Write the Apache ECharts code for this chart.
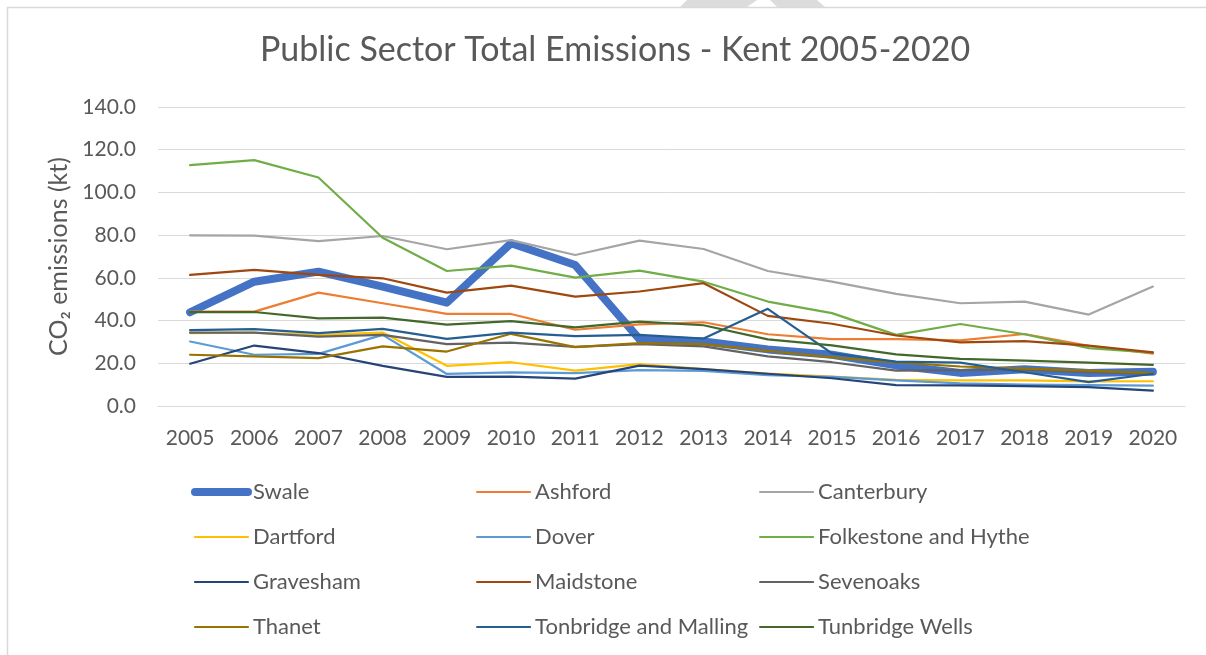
<!DOCTYPE html>
<html>
<head>
<meta charset="utf-8">
<script src="https://cdn.jsdelivr.net/npm/echarts@6/dist/echarts.min.js"></script>
<style>
html,body{margin:0;padding:0;background:#fff;}
#c{width:1206px;height:655px;}
</style>
</head>
<body>
<div id="c"></div>
<script>
var years = ['2005','2006','2007','2008','2009','2010','2011','2012','2013','2014','2015','2016','2017','2018','2019','2020'];
var yTicks = [0, 20, 40, 60, 80, 100, 120, 140];

var swale       = [43.9, 58.2, 62.9, 55.9, 48.4, 76.2, 66.0, 31.3, 30.2, 26.5, 24.0, 19.0, 15.5, 17.2, 15.5, 16.0];
var ashford     = [44.2, 44.2, 53.1, 48.1, 43.1, 43.1, 35.7, 38.2, 39.2, 33.6, 31.3, 31.3, 30.7, 33.7, 28.2, 24.5];
var canterbury  = [79.9, 79.8, 77.2, 79.6, 73.4, 77.7, 70.7, 77.4, 73.5, 63.2, 58.2, 52.5, 48.1, 48.9, 42.8, 55.9];
var dartford    = [34.1, 34.3, 33.3, 34.4, 18.8, 20.5, 16.6, 19.6, 17.3, 15.2, 13.8, 12.2, 12.0, 12.0, 11.5, 11.6];
var dover       = [30.2, 24.0, 24.4, 33.3, 15.0, 15.7, 15.4, 16.8, 16.4, 14.4, 13.6, 12.0, 10.6, 10.0, 9.8, 9.5];
var folkestone  = [112.8, 115.1, 107.0, 78.8, 63.2, 65.7, 60.1, 63.4, 58.2, 48.9, 43.5, 33.3, 38.4, 33.6, 27.1, 25.0];
var gravesham   = [19.8, 28.3, 24.8, 18.8, 13.6, 13.8, 12.8, 18.9, 17.3, 15.1, 13.0, 9.8, 9.7, 9.3, 8.8, 7.2];
var maidstone   = [61.4, 63.7, 61.4, 59.8, 53.1, 56.4, 51.2, 53.6, 57.5, 42.2, 38.5, 33.0, 29.8, 30.4, 28.3, 25.1];
var sevenoaks   = [34.4, 34.4, 32.5, 33.3, 29.0, 29.7, 27.7, 29.0, 27.9, 23.2, 20.5, 16.6, 16.8, 17.0, 15.9, 15.1];
var thanet      = [24.0, 23.2, 22.4, 27.9, 25.5, 33.8, 27.6, 29.4, 29.0, 25.8, 22.8, 20.4, 18.5, 17.5, 16.6, 15.4];
var tonbridge   = [35.5, 36.0, 34.1, 36.1, 31.4, 34.4, 32.7, 33.3, 31.6, 45.5, 24.6, 20.8, 20.3, 15.8, 11.2, 15.1];
var tunbridgeW  = [44.0, 44.0, 41.0, 41.4, 38.1, 39.7, 36.8, 39.5, 37.8, 31.2, 28.4, 24.2, 22.1, 21.2, 20.3, 19.3];

var names = ['Swale','Ashford','Canterbury','Dartford','Dover','Folkestone and Hythe','Gravesham','Maidstone','Sevenoaks','Thanet','Tonbridge and Malling','Tunbridge Wells'];
var values = [swale, ashford, canterbury, dartford, dover, folkestone, gravesham, maidstone, sevenoaks, thanet, tonbridge, tunbridgeW];
var colors = ['#4472C4','#ED7D31','#A5A5A5','#FFC000','#5B9BD5','#70AD47','#264478','#9E480E','#636363','#997300','#255E91','#43682B'];

var FONT = 'Lato';
var TXT = '#595959';

var series = names.map(function(n, i){
  return {
    name: n,
    type: 'line',
    data: values[i],
    symbol: 'none',
    showSymbol: false,
    color: colors[i],
    lineStyle: {
      color: colors[i],
      width: i === 0 ? 8 : 2.2,
      cap: 'round',
      join: 'round'
    },
    emphasis: {disabled: true},
    animation: false
  };
});

function legendCol(items, left){
  return {
    orient: 'vertical',
    left: left,
    top: 476,
    itemWidth: 53,
    itemHeight: 14,
    itemGap: 23,
    selectedMode: false,
    data: items,
    itemStyle: {opacity: 0, borderWidth: 0},
    lineStyle: {width: 'inherit', cap: 'round'},
    textStyle: {color: TXT, fontSize: 22, fontFamily: FONT}
  };
}

var chart = echarts.init(document.getElementById('c'), null, {renderer: 'canvas'});
chart.setOption({
  backgroundColor: '#fff',
  animation: false,
  title: {
    text: 'Public Sector Total Emissions - Kent 2005-2020',
    left: 255,
    top: 28,
    textStyle: {color: TXT, fontSize: 34, fontWeight: 'normal', fontFamily: FONT}
  },
  legend: [
    legendCol(['Swale','Dartford','Gravesham','Thanet'], 186),
    legendCol(['Ashford','Dover','Maidstone','Tonbridge and Malling'], 471),
    legendCol(['Canterbury','Folkestone and Hythe','Sevenoaks','Tunbridge Wells'], 754)
  ],
  grid: {left: 158, right: 21, top: 107, bottom: 249, containLabel: false},
  xAxis: {
    type: 'category',
    data: years,
    boundaryGap: true,
    axisLine: {show: true, lineStyle: {color: '#D9D9D9', width: 1}},
    axisTick: {show: false},
    axisLabel: {color: TXT, fontSize: 21, fontFamily: FONT, margin: 22}
  },
  yAxis: {
    type: 'value',
    min: yTicks[0],
    max: yTicks[yTicks.length - 1],
    interval: yTicks[1] - yTicks[0],
    name: 'CO\u2082 emissions (kt)',
    nameLocation: 'middle',
    nameGap: 76,
    nameRotate: 90,
    nameTextStyle: {color: TXT, fontSize: 25, fontFamily: FONT},
    axisLine: {show: false},
    axisTick: {show: false},
    splitLine: {lineStyle: {color: '#D9D9D9', width: 1}},
    axisLabel: {
      color: TXT, fontSize: 21, fontFamily: FONT, margin: 22,
      formatter: function(v){ return v.toFixed(1); }
    }
  },
  graphic: [
    {type: 'polyline', silent: true, shape: {points: [[7.5, 655],[7.5, 7.5],[1206, 7.5]]}, style: {stroke: '#D9D9D9', lineWidth: 1.5, fill: null}},
    {type: 'polygon', silent: true, shape: {points: [[680,7],[687,0],[757,0],[747,7]]}, style: {fill: '#DCDCDC'}},
    {type: 'polygon', silent: true, shape: {points: [[777,7],[770,0],[817,0],[825,7]]}, style: {fill: '#DCDCDC'}}
  ],
  series: series
});
</script>
</body>
</html>
